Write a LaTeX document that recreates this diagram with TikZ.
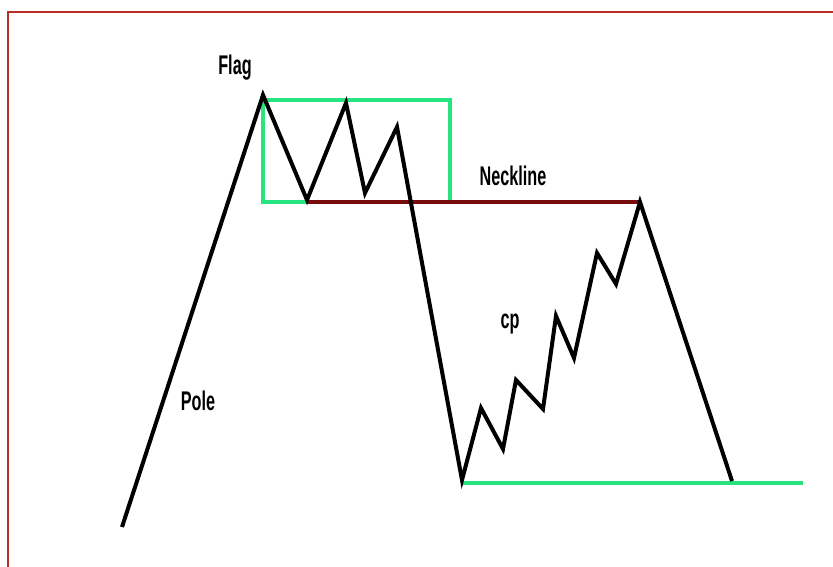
\documentclass[tikz,border=0pt]{standalone}
\usepackage{fontspec}
\setmainfont{Liberation Sans}[FakeStretch=0.6]
\usetikzlibrary{positioning}
\definecolor{FrameRed}{RGB}{185,45,35}
\definecolor{BoxGreen}{RGB}{40,228,128}
\definecolor{NeckRed}{RGB}{120,12,12}

\begin{document}
\begin{tikzpicture}[x=1pt, y=-1pt,
    every node/.style={font=\bfseries\fontsize{27}{29}\selectfont},
    price/.style={draw=black, line width=4pt},
    zone/.style={draw=BoxGreen, line width=4.5pt},
    neck/.style={draw=NeckRed, line width=4.5pt}]
\useasboundingbox (0,0) rectangle (833,567);

% window frame
\coordinate (tl) at (8,12);
\coordinate (tr) at (833,12);
\coordinate (bl) at (8,567);
\draw[FrameRed, line width=1.5pt] (bl) -- (tl) -- (tr);

% pole and flag
\coordinate (p0) at (122,527);
\coordinate (f0) at (263,95);
\coordinate (f1) at (307,200);
\coordinate (f2) at (346,103);
\coordinate (f3) at (365,193);
\coordinate (f4) at (397,127);
% drop and climb back
\coordinate (b0) at (462,480);
\coordinate (c1) at (481,408);
\coordinate (c2) at (503,449);
\coordinate (c3) at (516,380);
\coordinate (c4) at (543,409);
\coordinate (c5) at (556,316);
\coordinate (c6) at (574,358);
\coordinate (c7) at (597,253);
\coordinate (c8) at (616,284);
\coordinate (n1) at (640,202);
\coordinate (e0) at (732,481);

% flag box, neckline, base
\coordinate (boxa) at (263,100);
\coordinate (boxb) at (450,202);
\coordinate (n0) at (307,202);
\coordinate (g0) at (462,483);
\coordinate (g1) at (803,483);
\draw[zone] (boxa) rectangle (boxb);
\draw[zone] (g0) -- (g1);
\draw[neck] (n0) -- (n1 |- n0);

\draw[price] (p0) -- (f0) -- (f1) -- (f2) -- (f3) -- (f4) -- (b0)
    -- (c1) -- (c2) -- (c3) -- (c4) -- (c5) -- (c6) -- (c7) -- (c8)
    -- (n1) -- (e0);

\node (flag) at (235,68) {Flag};
\node (neckline) at (513,176) {Neckline};
\node (pole) at (198,401) {Pole};
\node (cp) at (510,324) {cp};
\end{tikzpicture}
\end{document}
